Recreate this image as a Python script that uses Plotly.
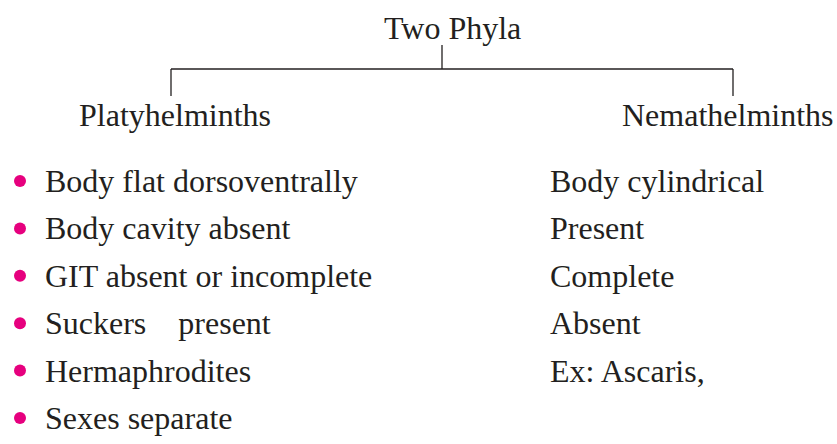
import plotly.graph_objects as go

# ---- data ----
root_label = "Two Phyla"
phyla = ["Platyhelminths", "Nemathelminths"]
platy_traits = [
    "Body flat dorsoventrally",
    "Body cavity absent",
    "GIT absent or incomplete",
    "Suckers\u00a0\u00a0\u00a0\u00a0present",
    "Hermaphrodites",
    "Sexes separate",
]
nema_traits = [
    "Body cylindrical",
    "Present",
    "Complete",
    "Absent",
    "Ex: Ascaris,",
]

W, H = 837, 444
FONT = "Liberation Serif, Times New Roman, serif"
FS = 32
INK = "#231f20"
PINK = "#e6007e"

row_y0, row_dy = 181, 47.4
rows_left = [row_y0 + i * row_dy for i in range(len(platy_traits))]
rows_right = [row_y0 + i * row_dy for i in range(len(nema_traits))]

fig = go.Figure()

# tree connector lines
xl, xm, xr = 171, 442, 733
fig.add_trace(go.Scatter(
    x=[xm, xm, None, xl, xr, None, xl, xl, None, xr, xr],
    y=[45, 69, None, 69, 69, None, 69, 96, None, 69, 96],
    mode="lines", line=dict(color=INK, width=1.3),
    hoverinfo="skip", showlegend=False))

# bullets
fig.add_trace(go.Scatter(
    x=[20] * len(platy_traits), y=rows_left, mode="markers",
    marker=dict(color=PINK, size=12, line=dict(width=0)),
    hoverinfo="skip", showlegend=False))

ann = []
ann.append(dict(x=452, y=28, text=root_label, xanchor="center", yanchor="middle"))
ann.append(dict(x=77, y=115, text=phyla[0], xanchor="left", yanchor="middle"))
ann.append(dict(x=836, y=115, text=phyla[1], xanchor="right", yanchor="middle"))
for t, y in zip(platy_traits, rows_left):
    ann.append(dict(x=43, y=y, text=t, xanchor="left", yanchor="middle"))
for t, y in zip(nema_traits, rows_right):
    ann.append(dict(x=548, y=y, text=t, xanchor="left", yanchor="middle"))
for a in ann:
    a.update(xref="x", yref="y", showarrow=False,
             font=dict(family=FONT, size=FS, color=INK))

fig.update_layout(
    width=W, height=H, margin=dict(l=0, r=0, t=0, b=0),
    paper_bgcolor="white", plot_bgcolor="white",
    annotations=ann,
    xaxis=dict(range=[0, W], visible=False, fixedrange=True),
    yaxis=dict(range=[H, 0], visible=False, fixedrange=True),
)
fig.write_html(
    "out.html",
    config={"displayModeBar": False},
    post_script="document.body.style.margin='0';document.body.style.overflow='hidden';",
)
